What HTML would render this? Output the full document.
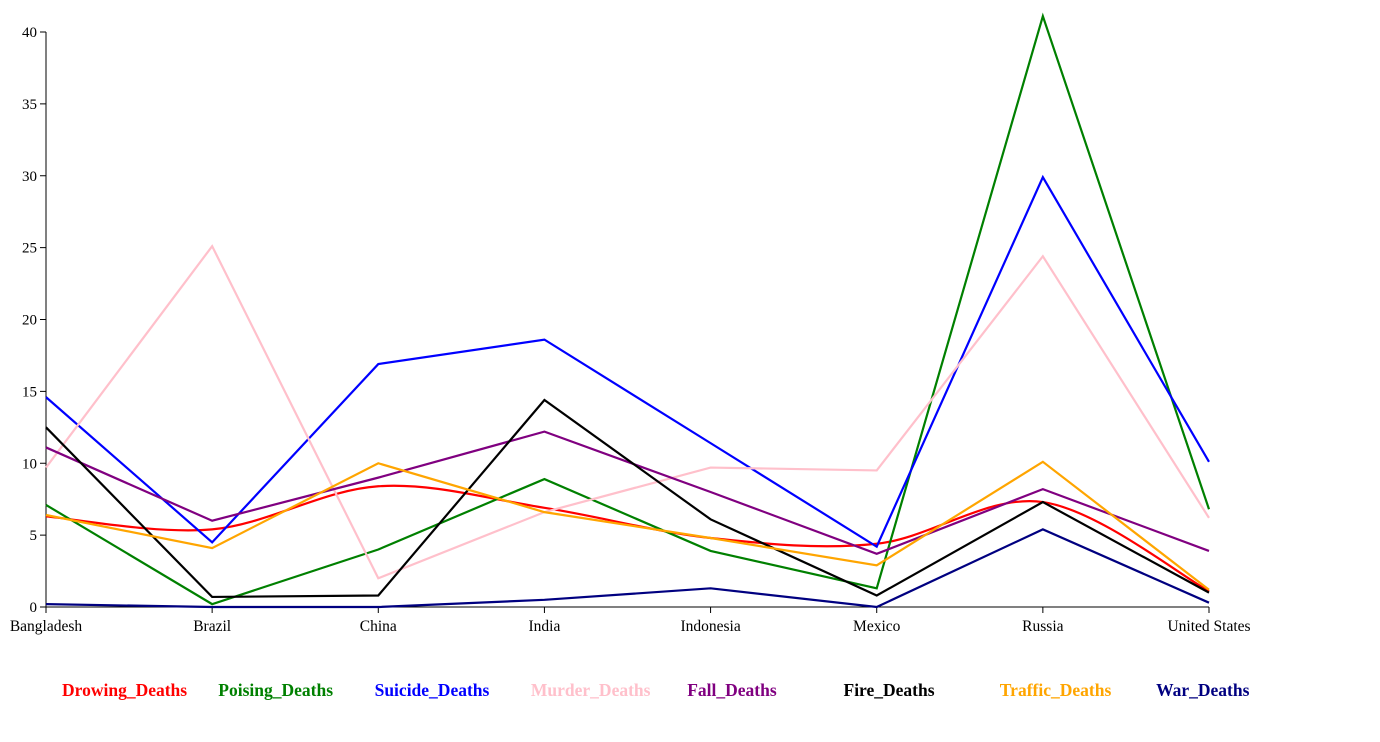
<!DOCTYPE html>
<html><head><meta charset="utf-8"><style>
body{margin:0;background:#fff;}
svg{display:block;font-family:"Liberation Serif",serif;}
</style></head><body>
<svg id="chart" width="1380" height="742"></svg>
<script>
const categories=["Bangladesh","Brazil","China","India","Indonesia","Mexico","Russia","United States"];
const seriesNames=["Drowing_Deaths","Poising_Deaths","Suicide_Deaths","Murder_Deaths","Fall_Deaths","Fire_Deaths","Traffic_Deaths","War_Deaths"];
const drowning=[6.3,5.4,8.4,6.9,4.8,4.4,7.3,1.1];
const poisoning=[7.1,0.2,4.0,8.9,3.9,1.3,41.1,6.8];
const suicide=[14.6,4.5,16.9,18.6,11.4,4.2,29.9,10.1];
const murder=[9.7,25.1,2.0,6.6,9.7,9.5,24.4,6.2];
const fall=[11.1,6.0,9.0,12.2,8.0,3.7,8.2,3.9];
const fire=[12.5,0.7,0.8,14.4,6.1,0.8,7.3,1.0];
const traffic=[6.4,4.1,10.0,6.6,4.8,2.9,10.1,1.2];
const war=[0.2,0.0,0.0,0.5,1.3,0.0,5.4,0.3];
const yTicks=[0,5,10,15,20,25,30,35,40];
const colors=["red","green","blue","pink","purple","black","orange","navy"];
const allSeries=[drowning,poisoning,suicide,murder,fall,fire,traffic,war];

const NS="http://www.w3.org/2000/svg";
const svg=document.getElementById("chart");
const x0=46,x1=1209,yBase=607,yTop=32;
const xs=i=>x0+i*(x1-x0)/(categories.length-1);
const ys=v=>yBase-v*(yBase-yTop)/40;
function mk(t,a){const e=document.createElementNS(NS,t);for(const k in a)e.setAttribute(k,a[k]);svg.appendChild(e);return e;}

const yAxis=mk("line",{x1:x0,y1:yTop,x2:x0,y2:yBase,stroke:"#000","stroke-width":1});


yTicks.forEach(v=>{
  const tk=mk("line",{x1:x0-6,y1:ys(v),x2:x0,y2:ys(v),stroke:"#000"});
  
  
  const t=mk("text",{x:x0-9,y:ys(v)+5,"text-anchor":"end","font-size":15});
  t.textContent=v;
  
  
});
const xAxis=mk("line",{x1:x0,y1:yBase,x2:x1,y2:yBase,stroke:"#000"});


categories.forEach((c,i)=>{
  const tk=mk("line",{x1:xs(i),y1:yBase,x2:xs(i),y2:yBase+6,stroke:"#000"});
  
  
  const t=mk("text",{x:xs(i),y:yBase+24,"text-anchor":"middle","font-size":15.5});
  t.textContent=c;
  
  
});
function cardinal(pts){
  let d="M"+pts[0][0]+","+pts[0][1];
  for(let i=0;i<pts.length-1;i++){
    const p0=pts[Math.max(i-1,0)],p1=pts[i],p2=pts[i+1],p3=pts[Math.min(i+2,pts.length-1)];
    const c1=[p1[0]+(p2[0]-p0[0])/6,p1[1]+(p2[1]-p0[1])/6];
    const c2=[p2[0]-(p3[0]-p1[0])/6,p2[1]-(p3[1]-p1[1])/6];
    d+="C"+c1+" "+c2+" "+p2;
  }
  return d;
}
allSeries.forEach((s,k)=>{
  const pts=s.map((v,i)=>[xs(i),ys(v)]);
  const d=k===0?cardinal(pts):"M"+pts.map(p=>p.join(",")).join("L");
  const p=mk("path",{d:d,fill:"none",stroke:colors[k],"stroke-width":2.2});
  
  
});
seriesNames.forEach((n,k)=>{
  const t=mk("text",{x:62+k*156.3,y:696,"font-size":17.5,"font-weight":"bold",fill:colors[k]});
  t.textContent=n;
  
  
});
</script>
</body></html>
